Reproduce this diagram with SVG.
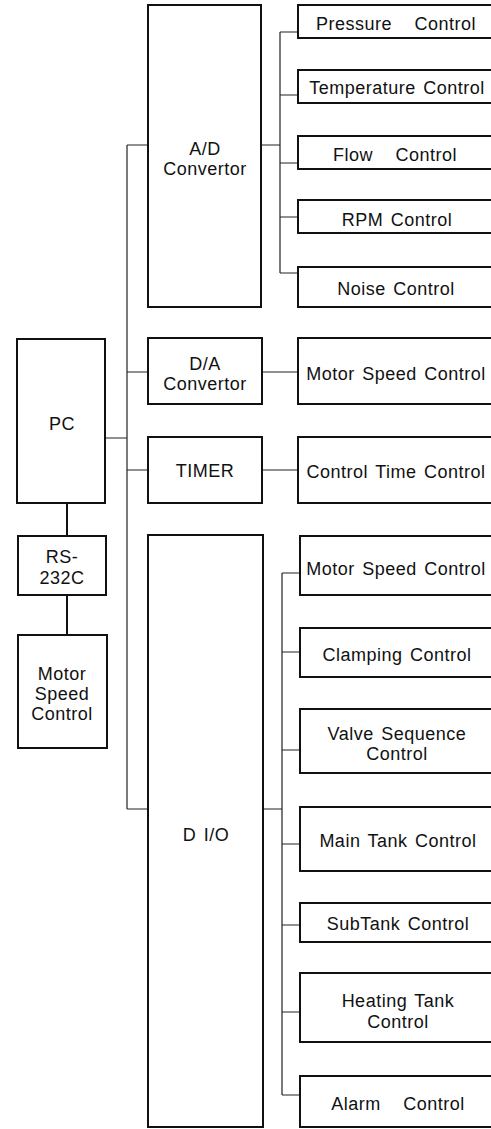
<svg xmlns="http://www.w3.org/2000/svg" width="491" height="1129" viewBox="0 0 491 1129">
<style>
.box{fill:#fff;stroke:#111;stroke-width:2}
.t{font-family:"Liberation Sans",Arial,sans-serif;font-size:18px;fill:#111;text-anchor:middle;letter-spacing:0.5px;word-spacing:2px}
.c{fill:none;stroke:#222;stroke-width:1.2}
.ct{fill:none;stroke:#111;stroke-width:2}
</style>
<rect width="491" height="1129" fill="#fff"/>
<g id="connectors">
<path class="c" d="M127 145V809M127 145H148M127 372H148M127 470H148M127 809H148M105 438H127"/>
<path class="c" d="M261 145H280M280 32V273M280 32H298M280 95H298M280 163H298M280 217H298M280 273H298"/>
<path class="c" d="M262 372H298M262 470H298"/>
<path class="c" d="M263 809H282M282 573V1095M282 573H300M282 652H300M282 750H300M282 844H300M282 925H300M282 1012H300M282 1095H300"/>
<path class="ct" d="M67 503V536M67 595V635"/>
</g>
<g id="pc"><rect class="box" x="17" y="339" width="88" height="164"/><text class="t" x="62" y="430">PC</text></g>
<g id="rs232c"><rect class="box" x="18" y="536" width="88" height="59"/><text class="t" x="62" y="563">RS-</text><text class="t" x="62" y="584">232C</text></g>
<g id="motor-left"><rect class="box" x="18" y="635" width="89" height="113"/><text class="t" x="62" y="680">Motor</text><text class="t" x="62" y="700">Speed</text><text class="t" x="62" y="720">Control</text></g>
<g id="ad"><rect class="box" x="148" y="5" width="113" height="302"/><text class="t" x="205" y="155">A/D</text><text class="t" x="205" y="175">Convertor</text></g>
<g id="da"><rect class="box" x="148" y="338" width="114" height="66"/><text class="t" x="205" y="370">D/A</text><text class="t" x="205" y="390">Convertor</text></g>
<g id="timer"><rect class="box" x="148" y="437" width="114" height="66"/><text class="t" x="205" y="477">TIMER</text></g>
<g id="dio"><rect class="box" x="148" y="535" width="115" height="592"/><text class="t" x="206" y="841">D I/O</text></g>
<g id="pressure"><rect class="box" x="298" y="5" width="200" height="33"/><text class="t" x="396" y="30" xml:space="preserve">Pressure   Control</text></g>
<g id="temperature"><rect class="box" x="298" y="70" width="200" height="33"/><text class="t" x="397" y="94">Temperature Control</text></g>
<g id="flow"><rect class="box" x="298" y="136" width="200" height="33"/><text class="t" x="395" y="161" xml:space="preserve">Flow   Control</text></g>
<g id="rpm"><rect class="box" x="298" y="200" width="200" height="33"/><text class="t" x="397" y="226">RPM Control</text></g>
<g id="noise"><rect class="box" x="298" y="267" width="200" height="40"/><text class="t" x="396" y="295">Noise Control</text></g>
<g id="motor-da"><rect class="box" x="298" y="338" width="200" height="66"/><text class="t" x="396" y="380">Motor Speed Control</text></g>
<g id="control-time"><rect class="box" x="298" y="437" width="200" height="66"/><text class="t" x="396" y="478">Control Time Control</text></g>
<g id="motor-dio"><rect class="box" x="300" y="536" width="200" height="59"/><text class="t" x="396" y="575">Motor Speed Control</text></g>
<g id="clamping"><rect class="box" x="300" y="628" width="200" height="49"/><text class="t" x="397" y="661">Clamping Control</text></g>
<g id="valve"><rect class="box" x="300" y="709" width="200" height="64"/><text class="t" x="397" y="740">Valve Sequence</text><text class="t" x="397" y="760">Control</text></g>
<g id="main-tank"><rect class="box" x="300" y="807" width="200" height="64"/><text class="t" x="398" y="847">Main Tank Control</text></g>
<g id="subtank"><rect class="box" x="300" y="903" width="200" height="39"/><text class="t" x="398" y="930">SubTank Control</text></g>
<g id="heating"><rect class="box" x="300" y="973" width="200" height="69"/><text class="t" x="398" y="1007">Heating Tank</text><text class="t" x="398" y="1028">Control</text></g>
<g id="alarm"><rect class="box" x="300" y="1076" width="200" height="51"/><text class="t" x="398" y="1110" xml:space="preserve">Alarm   Control</text></g>
</svg>
